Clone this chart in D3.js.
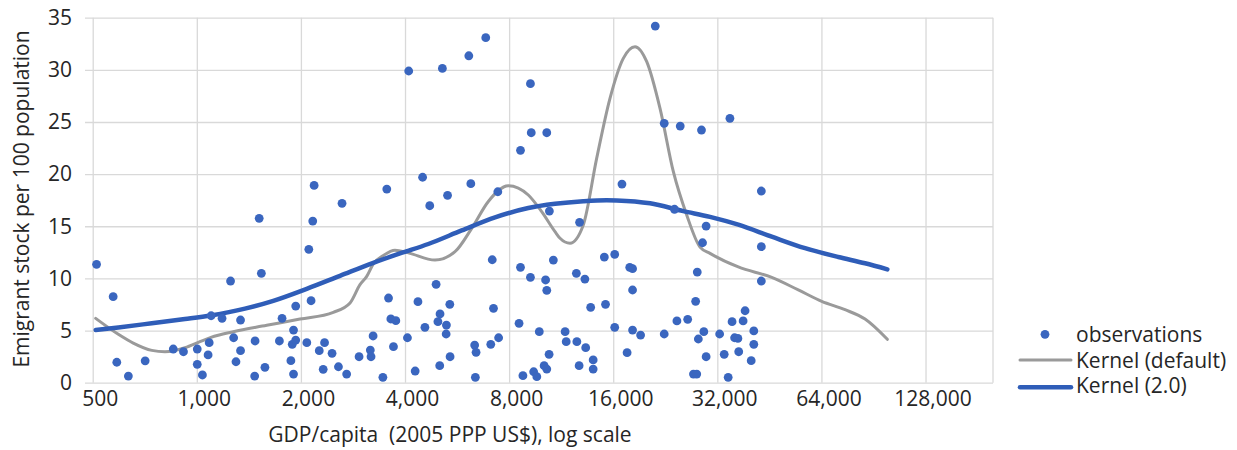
<!DOCTYPE html>
<html>
<head>
<meta charset="utf-8">
<script src="https://cdn.jsdelivr.net/npm/d3@7"></script>
<style>
  html, body { margin: 0; padding: 0; background: #fff; }
  svg { display: block; font-family: "Open Sans", "Noto Sans", sans-serif; }
</style>
</head>
<body>
<svg id="chart" width="1237" height="450"></svg>
<script>
// Observations: GDP per capita (2005 PPP US$) and emigrant stock per 100 population
const obsGdp = [
  513, 573, 587, 634, 709, 855, 915, 1003, 1003, 1038, 1086, 1078, 1100, 1183, 1252, 1278, 1298, 1338, 1338,
  1474, 1470, 1515, 1537, 1574, 1733, 1764, 1871, 1904, 1904, 1888, 1932, 1932, 2080, 2108, 2140, 2164, 2184,
  2260, 2341, 2320, 2461, 2568, 2630, 2712, 2946, 3175, 3190, 3234, 3452, 3543, 3584, 3640, 3763, 3704,
  4065, 4100, 4280, 4360, 4497, 4567, 4716, 4920, 5040, 5050, 4980, 5130, 5270, 5260, 5390, 5310, 5400,
  6117, 6200, 6360, 6420, 6390, 6847, 7080, 7150, 7210, 7460, 7420, 8547, 8630, 8630, 8770, 9220, 9220,
  9270, 9420, 9620, 9780, 10100, 10280, 10200, 10280, 10280, 10440, 10460, 10740,
  11615, 11700, 12520, 12560, 12790, 12750, 13250, 13320, 13770, 14000, 14000, 15080, 15200, 16160, 16160,
  16960, 17550, 17860, 18200, 18200, 18200, 19200, 21170, 22470, 22470, 25000, 24450, 26270, 24060, 27300,
  27900, 28000, 27700, 28200, 28800, 29250, 29000, 29700, 29700,
  32500, 33500, 34400, 34800, 35300, 35900, 36700, 36900, 38000, 38500, 40100, 40800, 40800, 42900, 42900, 42900
];
const obsStock = [
  11.35, 8.25, 1.96, 0.64, 2.10, 3.23, 2.97, 3.23, 1.76, 0.74, 3.84, 2.66, 6.42, 6.17, 9.75, 4.31, 2.01, 6.01, 3.07,
  4.0, 0.64, 15.76, 10.49, 1.47, 4.0, 6.17, 2.11, 0.83, 5.05, 3.68, 4.09, 7.35, 3.84, 12.79, 7.86, 15.5, 18.92,
  3.07, 3.84, 1.28, 2.82, 1.53, 17.2, 0.83, 2.49, 3.13, 2.49, 4.48, 0.52, 18.57, 8.12, 6.11, 5.95, 3.45,
  4.31, 29.89, 1.12, 7.77, 19.7, 5.31, 16.97, 9.43, 1.63, 6.59, 5.85, 30.14, 5.53, 4.67, 7.52, 17.97, 2.49,
  31.35, 19.08, 3.61, 2.91, 0.52, 33.08, 3.68, 11.79, 7.13, 4.31, 18.31, 5.69, 11.06, 22.28, 0.67, 10.1, 28.67,
  23.97, 1.05, 0.58, 4.89, 1.63, 1.31, 9.85, 8.86, 23.97, 2.72, 16.46, 11.76,
  4.89, 3.93, 10.49, 3.93, 15.38, 1.63, 9.94, 3.36, 7.23, 2.18, 1.31, 12.05, 7.52, 12.31, 5.31,
  19.05, 2.88, 11.06, 10.93, 8.89, 5.05, 4.57, 34.2, 24.87, 4.67, 24.61, 5.92, 6.08, 16.63, 0.83,
  0.83, 10.61, 7.8, 4.19, 24.23, 4.89, 13.42, 15.02, 2.49,
  4.67, 2.72, 0.52, 25.35, 5.85, 4.31, 4.25, 2.97, 5.92, 6.9, 2.11, 4.96, 3.68, 18.38, 13.04, 9.75
];

// Kernel regression, default bandwidth
const kernelDefaultGdp = [
  510, 593, 655, 741, 809, 924, 1021, 1099, 1275, 1593, 1988, 2481, 2774, 2964, 3100, 3239, 3462, 3742,
  4089, 4884, 5580, 6237, 6966, 7957, 9090, 9938, 10860, 11230, 12000, 13110, 14330, 15660, 17110, 18500,
  20000, 21850, 23880, 26100, 28520, 30480, 36800, 45980, 54870, 64140, 74900, 85570, 99260
];
const kernelDefaultVal = [
  6.17, 4.64, 3.8, 3.1, 2.97, 3.35, 3.93, 4.35, 4.89, 5.5, 6.1, 6.75, 7.65, 9.4, 10.2, 11.4, 12.2, 12.7,
  12.45, 11.76, 12.56, 14.8, 17.38, 18.89, 18.0, 16.4, 14.48, 13.85, 13.37, 15.12, 21.51, 27.27, 31.1, 32.22,
  30.78, 26.3, 20.23, 16.08, 13.0, 12.4, 11.1, 10.1, 8.9, 7.8, 7.0, 6.1, 4.16
];

// Kernel regression, bandwidth 2.0
const kernelWideGdp = [
  510, 593, 741, 924, 1099, 1378, 1664, 2079, 2595, 3239, 3869, 4671, 5836, 7285, 9090, 10860, 13110,
  15320, 16380, 20450, 25510, 30480, 36800, 45980, 57400, 71620, 85570, 99260
];
const kernelWideVal = [
  5.05, 5.3, 5.7, 6.1, 6.45, 7.1, 7.85, 9.0, 10.25, 11.5, 12.4, 13.3, 14.6, 15.85, 16.75, 17.15, 17.4,
  17.5, 17.48, 17.2, 16.45, 15.9, 15.15, 14.0, 12.9, 12.05, 11.45, 10.87
];

const xTicks = [500, 1000, 2000, 4000, 8000, 16000, 32000, 64000, 128000];
const yTicks = [0, 5, 10, 15, 20, 25, 30, 35];
const legendLabels = ["observations", "Kernel (default)", "Kernel (2.0)"];

const svg = d3.select("#chart");
const plot = { left: 85, right: 993, top: 17.7, bottom: 382.7 };

const x = d3.scaleLog().base(2).domain([475, 200600]).range([plot.left, plot.right]);
const y = d3.scaleLinear().domain([0, 35]).range([plot.bottom, plot.top]);

const gridColor = "#d9d9d9";
const dotColor = "#3a66bf";
const blueLine = "#2f5db8";
const grayLine = "#9a9a9a";
const textColor = "#262626";

// horizontal gridlines (left tick stubs included)
const yAxis = d3.axisLeft(y).tickValues(yTicks).tickSize(-(plot.right - plot.left)).tickFormat(d3.format("d"));
const gy = svg.append("g").attr("transform", `translate(${plot.right},0)`);
gy.call(d3.axisLeft(y).tickValues(yTicks).tickSize(plot.right - plot.left).tickFormat(""));
gy.select(".domain").remove();
gy.selectAll("line").attr("stroke", gridColor).attr("stroke-width", 1.3);

// vertical gridlines
const gx = svg.append("g").attr("transform", `translate(0,${plot.bottom})`);
gx.call(d3.axisBottom(x).tickValues(xTicks).tickSize(-(plot.bottom - plot.top)).tickFormat(""));
gx.select(".domain").remove();
gx.selectAll("line").attr("stroke", gridColor).attr("stroke-width", 1.3);

// right edge of plot area
svg.append("line")
  .attr("x1", plot.right).attr("x2", plot.right)
  .attr("y1", plot.top).attr("y2", plot.bottom)
  .attr("stroke", gridColor).attr("stroke-width", 1.3);

// tick labels
const yLab = svg.append("g").attr("transform", `translate(${plot.left},0)`)
  .call(d3.axisLeft(y).tickValues(yTicks).tickSize(0).tickPadding(13).tickFormat(d3.format("d")));
yLab.select(".domain").remove();
yLab.selectAll("text").attr("font-size", 21).attr("font-family", "Open Sans").attr("fill", textColor);

const xLab = svg.append("g").attr("transform", `translate(7,${plot.bottom})`)
  .call(d3.axisBottom(x).tickValues(xTicks).tickSize(0).tickPadding(8).tickFormat(d3.format(",")));
xLab.select(".domain").remove();
xLab.selectAll("text").attr("font-size", 21).attr("font-family", "Open Sans").attr("fill", textColor);

// axis titles
svg.append("text")
  .attr("x", 450).attr("y", 441.5)
  .attr("text-anchor", "middle")
  .attr("font-size", 21).attr("fill", textColor)
  .text("GDP/capita  (2005 PPP US$), log scale")
  .style("white-space", "pre");

svg.append("text")
  .attr("transform", "translate(28.5,199) rotate(-90)")
  .attr("text-anchor", "middle")
  .attr("font-size", 21).attr("fill", textColor)
  .text("Emigrant stock per 100 population");

// kernel curves
const line = d3.line().x(d => x(d[0])).y(d => y(d[1])).curve(d3.curveMonotoneX);

svg.append("path")
  .datum(d3.zip(kernelDefaultGdp, kernelDefaultVal))
  .attr("d", line)
  .attr("fill", "none").attr("stroke", grayLine).attr("stroke-width", 3)
  .attr("stroke-linecap", "round").attr("stroke-linejoin", "round");

svg.append("path")
  .datum(d3.zip(kernelWideGdp, kernelWideVal))
  .attr("d", line)
  .attr("fill", "none").attr("stroke", blueLine).attr("stroke-width", 4.5)
  .attr("stroke-linecap", "round").attr("stroke-linejoin", "round");

// observation markers
svg.append("g").selectAll("circle")
  .data(d3.zip(obsGdp, obsStock))
  .join("circle")
  .attr("cx", d => x(d[0]))
  .attr("cy", d => y(d[1]))
  .attr("r", 4.4)
  .attr("fill", dotColor);

// legend
const lg = svg.append("g");
lg.append("circle").attr("cx", 1045).attr("cy", 334.3).attr("r", 4.4).attr("fill", dotColor);
lg.append("line").attr("x1", 1020).attr("x2", 1071).attr("y1", 360).attr("y2", 360)
  .attr("stroke", grayLine).attr("stroke-width", 3).attr("stroke-linecap", "round");
lg.append("line").attr("x1", 1020).attr("x2", 1071).attr("y1", 387.3).attr("y2", 387.3)
  .attr("stroke", blueLine).attr("stroke-width", 4.5).attr("stroke-linecap", "round");
lg.selectAll("text")
  .data(legendLabels)
  .join("text")
  .attr("x", 1076)
  .attr("y", (d, i) => 341.7 + i * 25.8)
  .attr("font-size", 21).attr("fill", textColor)
  .text(d => d);
</script>
</body>
</html>
